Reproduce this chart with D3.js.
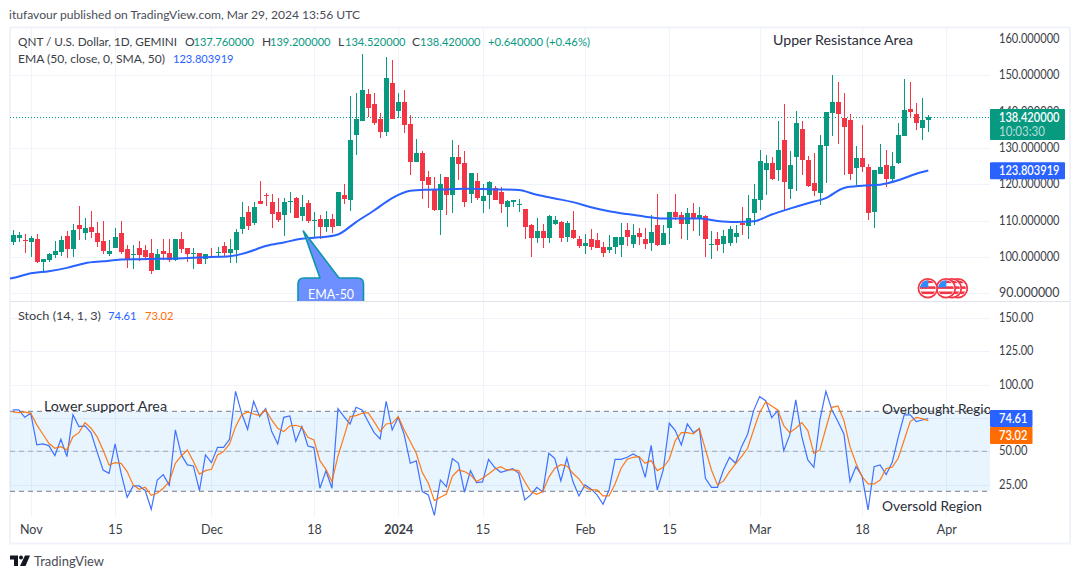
<!DOCTYPE html>
<html><head><meta charset="utf-8">
<style>html,body{margin:0;padding:0;background:#fff}svg{display:block}text{font-family:Lato,"Noto Sans",sans-serif}</style>
<script src="https://cdn.jsdelivr.net/npm/d3@7"></script>
</head><body><svg id="c" width="1080" height="579"></svg>
<script>
const opens=[104.1,105.2,104.6,104.2,104.9,98.7,99.2,100.6,101.4,105.8,102.3,108.7,106.7,108.3,106.6,104.4,100.9,102.5,106.6,102.2,100.6,102.4,101.9,101.1,96.4,101.7,101.1,99.2,105.0,102.4,100.8,101.1,99.5,100.3,101.3,103.0,101.1,101.9,107.7,112.4,109.4,115.4,117.0,115.1,112.4,111.6,115.0,116.3,111.3,114.9,110.0,110.5,108.3,110.5,108.5,
117.1,115.7,133.6,137.4,144.9,142.1,138.0,134.4,147.9,140.2,142.7,136.6,126.2,128.6,122.0,118.7,112.9,122.0,117.1,127.5,125.9,117.3,120.9,115.4,117.1,119.0,117.9,113.8,115.2,114.4,113.2,108.8,105.2,107.2,105.2,109.1,109.6,105.5,107.4,105.0,103.0,105.0,104.7,102.8,101.9,102.8,103.3,107.4,103.6,106.6,105.0,103.9,108.8,103.3,108.0,
112.4,111.6,109.1,112.1,110.7,111.3,103.3,105.0,103.6,103.9,105.5,109.4,108.5,112.1,115.7,124.0,125.9,124.0,132.2,118.7,127.5,135.2,126.7,120.4,117.6,130.6,139.6,142.7,138.3,137.7,124.5,127.2,124.8,112.4,122.8,125.3,121.5,125.9,133.3,140.7,139.4,135.5,137.76];
const highs=[107.4,107.0,106.3,105.8,106.3,99.5,101.0,104.5,105.8,107.2,109.0,114.0,110.7,112.6,109.6,109.9,104.7,107.9,109.9,103.3,103.3,104.5,103.3,105.0,102.2,105.0,105.0,105.0,107.0,102.4,102.4,101.1,100.8,102.4,102.8,104.1,104.9,107.6,115.0,113.9,115.2,120.9,117.5,117.3,116.2,116.3,117.9,116.6,117.1,115.7,112.5,111.6,112.7,111.8,117.9,
120.1,144.3,145.0,155.9,146.2,145.0,139.5,155.0,154.2,145.2,146.0,139.1,132.5,129.2,123.7,122.0,122.8,122.0,132.2,130.8,129.2,123.1,123.1,120.1,120.9,119.5,119.2,115.7,115.7,116.0,113.2,109.1,110.7,109.1,111.6,111.3,109.9,109.9,112.7,105.8,106.3,107.7,106.6,104.1,106.1,105.5,109.4,109.4,109.1,108.0,108.0,111.6,117.3,108.8,112.4,
117.3,112.4,113.5,114.9,113.8,111.6,107.2,106.9,107.4,108.5,108.8,113.8,117.1,120.1,129.5,128.1,127.5,137.4,142.1,129.2,140.2,137.4,127.8,128.6,133.6,139.9,150.1,148.2,145.1,139.4,130.6,136.3,125.6,124.0,131.1,129.5,128.9,136.9,149.0,148.2,142.4,143.8,139.2];
const lows=[103.3,104.2,101.2,100.1,98.3,95.5,98.5,99.6,100.3,99.8,100.1,104.7,104.7,105.1,102.8,100.8,100.3,102.4,100.8,97.1,96.7,99.0,99.5,95.3,96.4,99.2,98.7,98.9,101.0,98.6,96.7,98.1,98.1,99.9,99.8,100.1,98.3,98.3,106.3,107.3,108.8,114.7,113.9,108.1,109.7,105.9,112.0,110.7,110.0,109.3,105.4,105.0,107.0,106.6,108.5,
114.6,112.7,128.1,137.4,138.4,136.3,132.8,133.3,138.0,138.3,134.0,122.6,126.2,116.0,113.5,112.7,106.1,111.6,112.1,121.2,113.8,114.9,115.7,112.1,113.2,115.7,112.1,108.3,113.8,112.4,105.0,100.0,103.9,102.5,103.8,108.8,104.1,104.1,105.0,102.5,100.8,101.9,102.5,100.0,101.1,100.8,100.0,103.0,102.5,103.3,102.2,101.7,103.0,103.3,103.6,
110.2,105.0,104.7,107.2,105.8,100.1,99.5,101.7,101.1,103.0,103.9,106.1,105.0,108.8,112.9,117.1,121.2,120.9,112.7,116.0,118.2,122.6,119.3,116.8,114.3,120.4,133.3,131.1,122.6,121.2,119.8,123.4,110.2,108.0,122.8,119.3,120.9,125.6,133.3,138.3,135.0,132.2,134.52];
const closes=[106.1,106.1,104.5,105.3,98.6,99.5,100.8,101.7,104.7,102.3,107.4,107.8,108.0,106.9,104.1,101.7,101.7,105.5,101.5,99.2,100.8,100.6,99.9,96.2,100.8,100.8,99.2,105.0,102.2,100.8,101.0,98.1,100.8,100.0,101.5,101.1,102.2,106.9,111.0,108.5,113.8,114.7,116.8,111.8,110.2,115.1,115.4,110.7,113.8,110.0,110.2,108.3,110.5,108.3,117.9,
116.0,132.2,138.0,146.0,141.0,136.9,134.4,149.3,138.0,142.7,136.3,126.2,128.6,120.9,119.8,112.9,120.1,117.1,127.5,125.6,115.1,123.1,116.2,116.8,120.6,115.7,114.6,115.4,115.7,114.6,108.3,105.2,107.2,105.2,111.3,110.2,105.2,109.4,105.2,103.0,103.9,102.8,102.5,101.1,102.8,105.5,105.5,105.5,106.1,105.5,103.6,106.9,103.3,106.6,112.4,
111.0,109.1,112.1,110.7,111.6,105.0,103.6,103.3,105.8,107.7,106.6,108.8,110.7,116.0,126.4,125.9,121.5,129.5,120.6,125.3,136.9,126.7,119.5,118.2,130.8,139.9,142.7,139.4,135.8,122.8,127.2,124.8,112.1,124.0,124.8,121.5,125.1,133.6,140.5,139.9,136.9,137.8,138.42];
const emaCandle=[-1,0,3,6,9,12,15,18,21,24,27,30,33,36,39,42,45,48,51,54,57,60,63,66,69,72,75,78,81,84,87,90,93,96,99,102,105,108,111,114,117,120,123,126,129,132,135,138,141,144,147,150,152];
const emaValues=[93.9,94.2,95.5,96.1,97.0,98.3,98.8,99.3,99.4,99.5,99.6,99.8,100.0,100.2,101.3,103.0,104.0,105.0,105.4,106.2,109.6,112.8,116.2,118.2,118.5,118.6,118.8,118.7,118.6,118.4,117.1,116.1,115.1,113.7,112.6,111.8,111.1,110.6,110.6,110.6,109.9,109.6,109.8,111.7,113.3,114.8,116.2,119.0,119.6,119.9,121.1,122.9,123.8];
const stochK=[81.0,81.0,75.5,78.5,54.8,55.5,54.3,46.8,59.0,46.0,77.5,68.5,69.0,64.0,49.8,36.0,33.5,55.5,33.5,15.5,24.0,24.0,20.5,6.5,28.5,32.5,24.5,66.0,47.3,39.8,39.0,20.5,47.3,41.5,53.0,53.0,59.0,95.0,78.5,66.5,87.5,76.0,82.0,64.8,55.5,75.5,76.5,57.5,68.5,54.0,52.8,22.3,35.3,22.3,82.0,
76.0,70.5,83.0,81.0,72.3,64.0,59.3,87.5,66.0,75.5,62.3,41.0,42.8,19.8,17.3,2.0,28.5,23.5,44.5,41.0,19.3,35.5,26.5,27.0,44.0,38.0,34.3,35.5,37.0,33.5,13.5,17.3,23.0,19.5,48.5,44.5,27.8,44.8,27.3,16.5,24.8,21.8,17.3,10.3,21.0,44.0,44.0,45.5,48.0,45.5,30.5,54.5,21.0,36.0,71.0,
65.5,54.8,70.5,64.0,67.0,29.8,23.0,23.0,36.0,45.5,41.0,53.5,62.8,80.5,91.0,88.0,75.3,80.5,50.5,62.3,88.5,61.0,43.5,38.0,73.5,95.0,81.0,72.3,62.8,27.3,38.5,31.5,6.0,38.5,39.8,32.5,41.5,60.5,77.3,77.3,72.3,73.5,74.61];
const stochD=[79.5,79.0,79.5,78.5,69.8,63.0,56.0,52.3,53.5,51.0,61.0,64.0,71.5,67.3,61.0,51.0,39.8,41.5,41.0,34.8,24.8,21.5,23.0,17.0,18.5,22.3,27.3,41.0,46.5,51.0,42.3,32.8,35.5,36.5,47.3,49.8,55.5,68.5,77.3,79.5,78.0,77.0,81.0,73.5,67.3,64.8,69.0,69.5,68.0,60.5,58.5,43.0,36.5,27.3,46.5,
61.0,76.0,76.8,78.5,79.0,72.3,64.8,70.5,71.0,76.0,66.0,57.3,48.5,34.0,26.0,13.0,15.5,18.0,31.5,36.0,34.8,32.3,27.3,29.8,33.0,36.5,38.5,36.0,36.0,35.5,27.3,19.8,17.8,19.8,30.5,37.3,40.0,39.0,33.5,29.3,23.0,21.0,21.0,16.5,16.5,25.5,37.3,44.0,45.5,46.0,41.0,43.0,35.5,38.0,44.0,
58.0,64.0,64.0,63.0,67.0,51.5,36.0,24.8,27.8,34.8,40.5,46.0,52.3,66.0,79.0,87.0,84.0,81.0,69.3,64.0,67.3,71.5,65.5,48.5,51.0,67.3,83.0,84.0,73.0,53.5,41.0,31.0,25.5,25.5,28.5,37.0,38.0,44.8,58.5,72.3,75.5,74.5,73.02];
const priceTicks=[160,150,140,130,120,110,100,90];
const stochTicks=[150,125,100,50,25];
const stochGrid=[150,125,100,75,50,25];
const timeTicks=[["2023-11-01","Nov"],["2023-11-15","15"],["2023-12-01","Dec"],["2023-12-18","18"],["2024-01-01","2024"],["2024-01-15","15"],["2024-02-01","Feb"],["2024-02-15","15"],["2024-03-01","Mar"],["2024-03-18","18"],["2024-04-01","Apr"]];
const eventDates=["2024-04-03","2024-04-02","2024-04-01","2024-03-29"];
const lastClose=138.42, lastEma=123.803919, lastK=74.61, lastD=73.02;
const firstDate=new Date(Date.UTC(2023,9,29));

const GREEN="#089981",RED="#f23645",BLUE="#2962ff",ORANGE="#ff6d00",GRID="#f0f3fa",TXT="#3b3e47";
const svg=d3.select("#c");
const L=10,R=990,T=28,SEP=301,B=516;
const dateOf=i=>d3.utcDay.offset(firstDate,i);
const x=d3.scaleUtc().domain([firstDate,dateOf(152)]).range([12.7,928.3]);
const y=d3.scaleLinear().domain([90,150]).range([293.3,75.3]);
const ys=d3.scaleLinear().domain([20,80]).range([491.3,411.3]);
const px=s=>new Date(s+"T00:00:00Z");

const defs=svg.append("defs");
defs.append("clipPath").attr("id","top").append("rect").attr("x",L).attr("y",T).attr("width",R-L).attr("height",SEP-T);
defs.append("clipPath").attr("id","bot").append("rect").attr("x",L).attr("y",SEP+1).attr("width",R-L).attr("height",B-SEP-1);
defs.append("clipPath").attr("id","tail").append("rect").attr("x",L).attr("y",T).attr("width",R-L+1).attr("height",SEP-T);
defs.append("clipPath").attr("id","over").append("rect").attr("x",0).attr("y",395).attr("width",R).attr("height",30);
defs.append("clipPath").attr("id","flag").append("circle").attr("r",8);

function label(s,xp,yp,o={}){
  const t=svg.append("text").attr("x",xp).attr("y",yp).attr("dy","0.35em").attr("fill",o.fill||TXT)
    .attr("font-size",o.size||12).attr("text-anchor",o.anchor||"start").text(s);
  if(o.weight)t.attr("font-weight",o.weight);
  if(o.len)t.attr("textLength",o.len).attr("lengthAdjust","spacingAndGlyphs");
  if(o.opacity)t.attr("fill-opacity",o.opacity);
  return t;
}

// frame
svg.append("rect").attr("x",10).attr("y",27.5).attr("width",1060).attr("height",516).attr("fill","#fff").attr("stroke",GRID).attr("stroke-width",2);
// grids
const grid=svg.append("g").attr("stroke",GRID).attr("stroke-width",1).attr("shape-rendering","crispEdges");
grid.selectAll(".v").data(timeTicks).join("line").attr("x1",d=>Math.round(x(px(d[0])))+.5).attr("x2",d=>Math.round(x(px(d[0])))+.5).attr("y1",T).attr("y2",B);
grid.selectAll(".h").data(priceTicks.filter(v=>v<160)).join("line").attr("x1",L).attr("x2",R).attr("y1",d=>Math.round(y(d))+.5).attr("y2",d=>Math.round(y(d))+.5);
grid.selectAll(".s").data(stochGrid).join("line").attr("x1",L).attr("x2",R).attr("y1",d=>Math.round(ys(d))+.5).attr("y2",d=>Math.round(ys(d))+.5);
// separators
svg.append("line").attr("x1",L).attr("x2",1070).attr("y1",301.5).attr("y2",301.5).attr("stroke","#e0e3eb").attr("stroke-width",1);

// stochastic band
svg.append("rect").attr("x",L).attr("width",R-L).attr("y",ys(80)).attr("height",ys(20)-ys(80)).attr("fill","#2196f3").attr("fill-opacity",.1);
[80,50,20].forEach(v=>svg.append("line").attr("x1",L).attr("x2",R).attr("y1",ys(v)).attr("y2",ys(v)).attr("stroke","#787b86").attr("stroke-opacity",v==50?.6:1).attr("stroke-dasharray","5 4").attr("stroke-width",1));

// last price line
svg.append("line").attr("x1",L).attr("x2",R).attr("y1",Math.round(y(lastClose))+.5).attr("y2",Math.round(y(lastClose))+.5).attr("stroke",GREEN).attr("stroke-dasharray","1 2").attr("stroke-width",1);

// candles
const rows=opens.map((o,i)=>({i,date:dateOf(i),o,h:highs[i],l:lows[i],c:closes[i]}));
const cg=svg.append("g").attr("clip-path","url(#top)").attr("shape-rendering","crispEdges");
const col=d=>d.c>=d.o?GREEN:RED;
cg.selectAll(".w").data(rows).join("rect").attr("x",d=>Math.round(x(d.date))).attr("width",1).attr("y",d=>y(d.h)).attr("height",d=>y(d.l)-y(d.h)).attr("fill",col);
cg.selectAll(".b").data(rows).join("rect").attr("x",d=>Math.round(x(d.date))-2).attr("width",5).attr("y",d=>y(Math.max(d.o,d.c))).attr("height",d=>Math.max(1,Math.abs(y(d.o)-y(d.c)))).attr("fill",col);

// EMA
const emaRows=emaCandle.map((c,k)=>({date:dateOf(c),v:emaValues[k]}));
svg.append("path").datum(emaRows).attr("clip-path","url(#top)").attr("fill","none").attr("stroke",BLUE).attr("stroke-width",2).attr("stroke-linejoin","round")
  .attr("d",d3.line().x(d=>x(d.date)).y(d=>y(d.v)).curve(d3.curveMonotoneX));

// EMA-50 callout
const callout=svg.append("g").attr("clip-path","url(#tail)");
const tx=303.3,ty=231,bl=298,br=363.5,bt=278,r=6;
callout.append("path").attr("d",`M${tx},${ty} L339,${bt} H${br-r} Q${br},${bt} ${br},${bt+r} V${bt+40} H${bl} V${bt+r} Q${bl},${bt} ${bl+r},${bt} H320 Z`)
  .attr("fill","#6e8fff").attr("stroke","#0b96a8").attr("stroke-width",1.6).attr("stroke-linejoin","round");
label("EMA-50",331,294,{fill:"#fff",size:13,anchor:"middle",len:46});

// stoch lines
const ln=d3.line().x((d,i)=>x(dateOf(i))).y(d=>ys(d));
const sg=svg.append("g").attr("clip-path","url(#bot)").attr("fill","none");
sg.append("path").attr("d",ln(stochK)).attr("stroke","#3f72ff").attr("stroke-width",1.2);
sg.append("path").attr("d",ln(stochD)).attr("stroke",ORANGE).attr("stroke-opacity",.9).attr("stroke-width",1.2);

// event flags
const fg=svg.append("g");
eventDates.forEach(s=>{
  const g=fg.append("g").attr("transform",`translate(${x(px(s))-.5},288.3)`);
  g.append("circle").attr("r",9.4).attr("fill","#fff").attr("stroke",RED).attr("stroke-width",1.8);
  const f=g.append("g").attr("clip-path","url(#flag)");
  f.append("rect").attr("x",-8).attr("y",-8).attr("width",16).attr("height",16).attr("fill","#fff");
  [-2,3.2].forEach(a=>f.append("rect").attr("x",-8).attr("y",a).attr("width",16).attr("height",2.6).attr("fill",RED));
  f.append("rect").attr("x",-8).attr("y",-8).attr("width",16).attr("height",2.8).attr("fill",RED);
  f.append("rect").attr("x",-8).attr("y",-8).attr("width",8.5).attr("height",7).attr("fill","#2f8bff");
});

// price axis
const priceLabel=v=>d3.format(".6f")(v);
priceTicks.forEach(v=>label(priceLabel(v),999,y(v)-.3,{len:60.5,size:12.5}));
stochTicks.forEach(v=>label(d3.format(".2f")(v),999,ys(v)-.3,{len:v>=100?34.5:28.5,size:12.5}));

// price tags
svg.append("rect").attr("x",990).attr("y",109).attr("width",75).attr("height",31).attr("rx",1).attr("fill",GREEN);
label(priceLabel(lastClose),999,118,{fill:"#fff",len:60.5,size:12.5,weight:600});
label("10:03:30",999,132,{fill:"#fff",size:12.5,len:46,opacity:.7});
svg.append("rect").attr("x",990).attr("y",162.3).attr("width",75).attr("height",17).attr("rx",1).attr("fill",BLUE);
label(d3.format(".6f")(lastEma),999,170.6,{fill:"#fff",len:60.5,size:12.5,weight:600});
svg.append("rect").attr("x",990).attr("y",410).attr("width",42.5).attr("height",17).attr("rx",1).attr("fill",BLUE);
label(d3.format(".2f")(lastK),999,418.5,{fill:"#fff",len:28.5,size:12.5,weight:600});
svg.append("rect").attr("x",990).attr("y",427).attr("width",42.5).attr("height",17).attr("rx",1).attr("fill",ORANGE);
label(d3.format(".2f")(lastD),999,435.5,{fill:"#fff",len:28.5,size:12.5,weight:600});

// time axis
const axis=d3.axisBottom(x).tickValues(timeTicks.map(d=>px(d[0]))).tickSize(0).tickPadding(0).tickFormat((d,i)=>timeTicks[i][1]);
const ax=svg.append("g").attr("transform","translate(0,525)").call(axis);
ax.select(".domain").remove();
ax.selectAll("text").attr("font-family","Lato,sans-serif").attr("font-size",12.5).attr("fill",TXT).attr("font-weight",d=>+d==+px("2024-01-01")?700:400);

// legend
label("itufavour published on TradingView.com, Mar 29, 2024 13:56 UTC",9,15,{size:12,len:351,fill:"#4a4d57"});
label("QNT / U.S. Dollar, 1D, GEMINI",18,41.5,{size:12,len:159});
[["O",185,"137.760000",193.5],["H",262,"139.200000",270],["L",338,"134.520000",345],["C",412,"138.420000",420]].forEach(a=>{
  label(a[0],a[1],41.5,{size:12});
  label(a[2],a[3],41.5,{size:12,fill:GREEN,len:60.5});
});
label("+0.640000 (+0.46%)",488,41.5,{size:12,fill:GREEN,len:102});
label("EMA (50, close, 0, SMA, 50)",18,58.5,{size:12,len:147});
label("123.803919",173,58.5,{size:12,fill:BLUE,len:60.5});
label("Stoch (14, 1, 3)",18,316,{size:12,len:83});
label("74.61",108,316,{size:12,fill:BLUE,len:28.5});
label("73.02",145,316,{size:12,fill:ORANGE,len:28.5});

// annotations
label("Upper Resistance Area",773,40,{size:14,len:140,fill:"#2a2e39"});
label("Lower support Area",44,406,{size:14,len:123,fill:"#2a2e39"});
label("Overbought Region",882,409,{size:14,len:117,fill:"#2a2e39"}).attr("clip-path","url(#over)");
label("Oversold Region",882,506,{size:14,len:100,fill:"#2a2e39"});

// footer
const logo=svg.append("g").attr("transform","translate(10,555.5)").attr("fill","#131722");
logo.append("path").attr("d","M0,0 H8 V10.5 H4 V4 H0 Z");
logo.append("circle").attr("cx",11).attr("cy",2).attr("r",2);
logo.append("path").attr("d","M15,0 H20 L15.5,10.5 H10 Z");
label("TradingView",34,561,{size:14,len:70,fill:"#4a4d57"});
</script></body></html>
